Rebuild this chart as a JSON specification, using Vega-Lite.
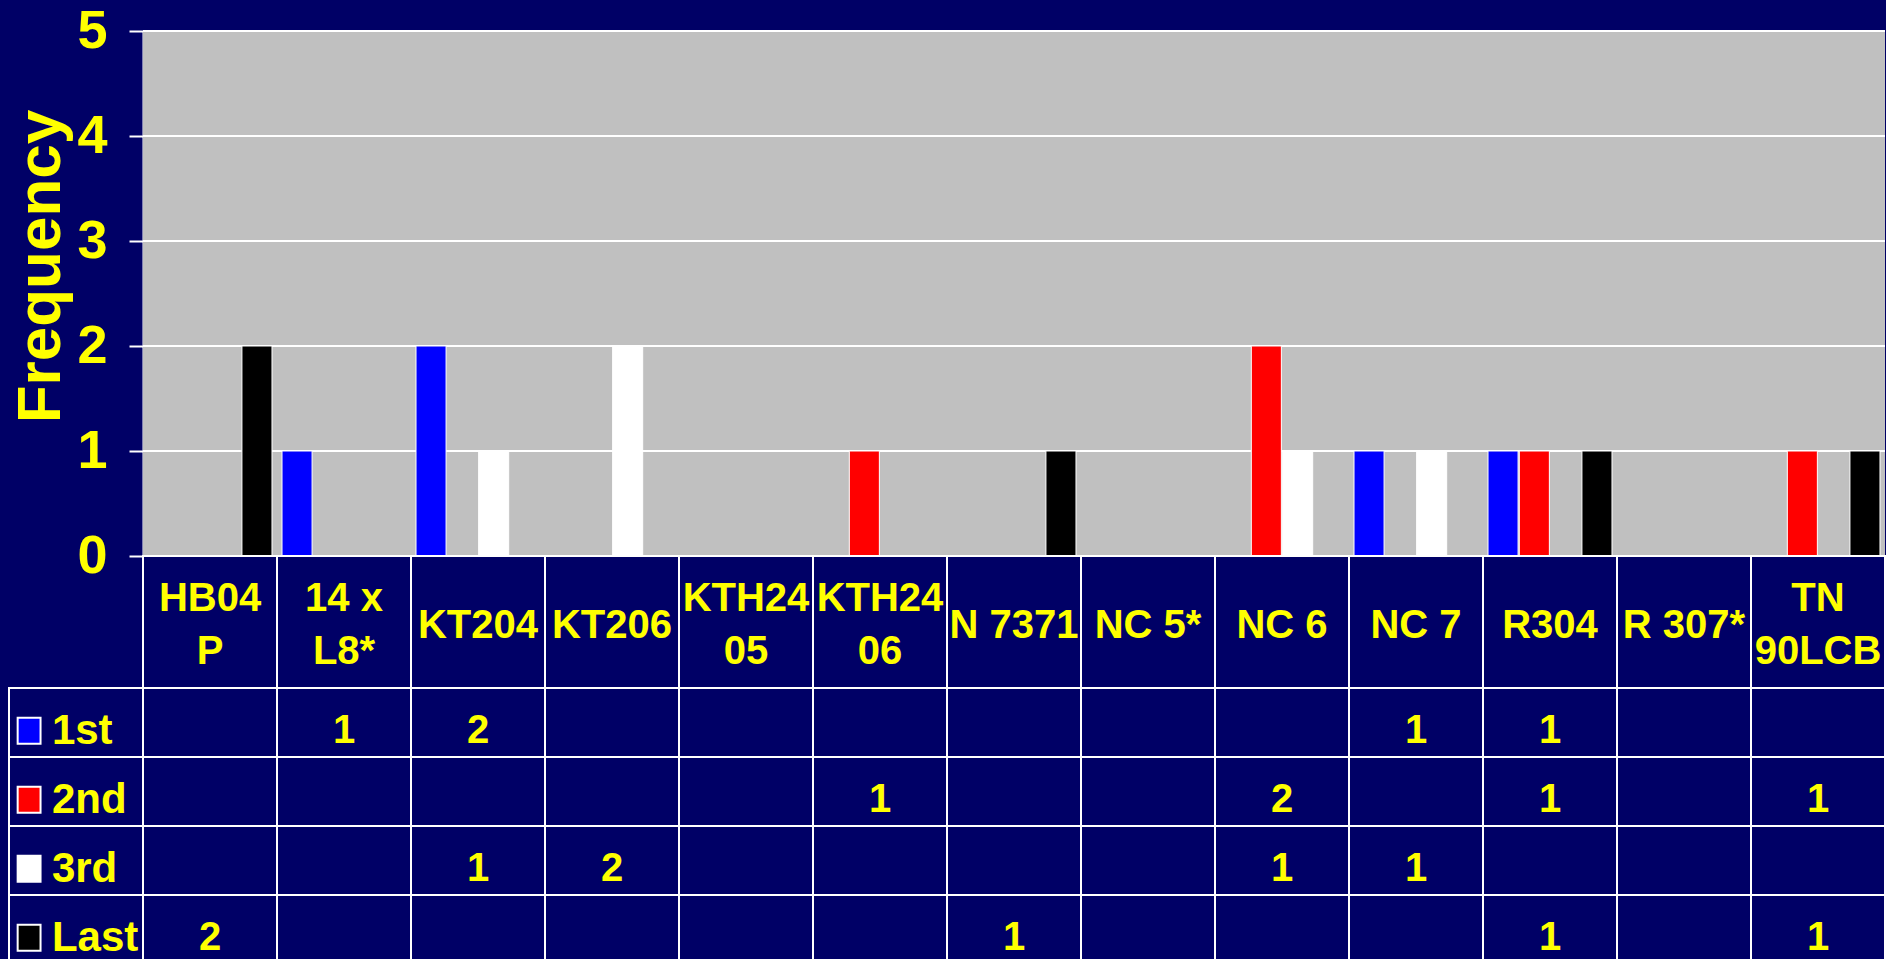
{
  "$schema": "https://vega.github.io/schema/vega-lite/v6.json",
  "background": "#000066",
  "padding": {"left": 8, "top": 4, "right": 0, "bottom": 0},
  "spacing": 0,
  "bounds": "flush",
  "config": {"view": {"stroke": null}},
  "datasets": {
    "table": [
      {"cultivar": "HB04\nP", "place": "1st", "n": null},
      {"cultivar": "HB04\nP", "place": "2nd", "n": null},
      {"cultivar": "HB04\nP", "place": "3rd", "n": null},
      {"cultivar": "HB04\nP", "place": "Last", "n": 2},
      {"cultivar": "14 x\nL8*", "place": "1st", "n": 1},
      {"cultivar": "14 x\nL8*", "place": "2nd", "n": null},
      {"cultivar": "14 x\nL8*", "place": "3rd", "n": null},
      {"cultivar": "14 x\nL8*", "place": "Last", "n": null},
      {"cultivar": "KT204", "place": "1st", "n": 2},
      {"cultivar": "KT204", "place": "2nd", "n": null},
      {"cultivar": "KT204", "place": "3rd", "n": 1},
      {"cultivar": "KT204", "place": "Last", "n": null},
      {"cultivar": "KT206", "place": "1st", "n": null},
      {"cultivar": "KT206", "place": "2nd", "n": null},
      {"cultivar": "KT206", "place": "3rd", "n": 2},
      {"cultivar": "KT206", "place": "Last", "n": null},
      {"cultivar": "KTH24\n05", "place": "1st", "n": null},
      {"cultivar": "KTH24\n05", "place": "2nd", "n": null},
      {"cultivar": "KTH24\n05", "place": "3rd", "n": null},
      {"cultivar": "KTH24\n05", "place": "Last", "n": null},
      {"cultivar": "KTH24\n06", "place": "1st", "n": null},
      {"cultivar": "KTH24\n06", "place": "2nd", "n": 1},
      {"cultivar": "KTH24\n06", "place": "3rd", "n": null},
      {"cultivar": "KTH24\n06", "place": "Last", "n": null},
      {"cultivar": "N 7371", "place": "1st", "n": null},
      {"cultivar": "N 7371", "place": "2nd", "n": null},
      {"cultivar": "N 7371", "place": "3rd", "n": null},
      {"cultivar": "N 7371", "place": "Last", "n": 1},
      {"cultivar": "NC 5*", "place": "1st", "n": null},
      {"cultivar": "NC 5*", "place": "2nd", "n": null},
      {"cultivar": "NC 5*", "place": "3rd", "n": null},
      {"cultivar": "NC 5*", "place": "Last", "n": null},
      {"cultivar": "NC 6", "place": "1st", "n": null},
      {"cultivar": "NC 6", "place": "2nd", "n": 2},
      {"cultivar": "NC 6", "place": "3rd", "n": 1},
      {"cultivar": "NC 6", "place": "Last", "n": null},
      {"cultivar": "NC 7", "place": "1st", "n": 1},
      {"cultivar": "NC 7", "place": "2nd", "n": null},
      {"cultivar": "NC 7", "place": "3rd", "n": 1},
      {"cultivar": "NC 7", "place": "Last", "n": null},
      {"cultivar": "R304", "place": "1st", "n": 1},
      {"cultivar": "R304", "place": "2nd", "n": 1},
      {"cultivar": "R304", "place": "3rd", "n": null},
      {"cultivar": "R304", "place": "Last", "n": 1},
      {"cultivar": "R 307*", "place": "1st", "n": null},
      {"cultivar": "R 307*", "place": "2nd", "n": null},
      {"cultivar": "R 307*", "place": "3rd", "n": null},
      {"cultivar": "R 307*", "place": "Last", "n": null},
      {"cultivar": "TN\n90LCB", "place": "1st", "n": null},
      {"cultivar": "TN\n90LCB", "place": "2nd", "n": 1},
      {"cultivar": "TN\n90LCB", "place": "3rd", "n": null},
      {"cultivar": "TN\n90LCB", "place": "Last", "n": 1}
    ],
    "ticks": [{"v": 0}, {"v": 1}, {"v": 2}, {"v": 3}, {"v": 4}, {"v": 5}]
  },
  "vconcat": [
    {
      "width": 1876,
      "height": 525,
      "layer": [
        {
          "data": {"name": "table"},
          "transform": [{"aggregate": [{"op": "count", "as": "k"}], "groupby": ["cultivar"]}],
          "mark": {"type": "rect", "fill": "#C0C0C0"},
          "encoding": {
            "x": {"field": "cultivar", "type": "nominal", "axis": null,
                  "scale": {"domain": ["key", "HB04\nP", "14 x\nL8*", "KT204", "KT206", "KTH24\n05", "KTH24\n06", "N 7371", "NC 5*", "NC 6", "NC 7", "R304", "R 307*", "TN\n90LCB"], "paddingInner": 0, "paddingOuter": 0}},
            "y": {"datum": 0, "type": "quantitative", "title": "Frequency",
                  "scale": {"domain": [0, 5], "nice": false, "zero": true},
                  "axis": {"values": [0, 1, 2, 3, 4, 5], "format": "d", "offset": -134, "grid": false,
                           "domainColor": "#FFFFFF", "domainWidth": 2,
                           "tickColor": "#FFFFFF", "tickWidth": 2, "tickSize": 14,
                           "labelColor": "#FFFF00", "labelFont": "Liberation Sans", "labelFontSize": 54, "labelFontWeight": "bold",
                           "labelPadding": 22, "labelFlush": false, "labelOverlap": false,
                           "title": "Frequency", "titleColor": "#FFFF00", "titleFont": "Liberation Sans", "titleFontSize": 62,
                           "titleFontWeight": "bold", "titlePadding": 4, "titleY": 235}},
            "y2": {"datum": 5}
          }
        },
        {
          "data": {"name": "ticks"},
          "mark": {"type": "rule", "stroke": "#FFFFFF", "strokeWidth": 2},
          "encoding": {
            "x": {"datum": "HB04\nP", "type": "nominal", "bandPosition": 0},
            "x2": {"datum": "TN\n90LCB", "bandPosition": 1},
            "y": {"field": "v", "type": "quantitative", "title": "Frequency"}
          }
        },
        {
          "data": {"name": "table"},
          "transform": [{"filter": "datum.n > 0"}],
          "mark": {"type": "bar", "stroke": "#FFFFFF", "strokeWidth": 1},
          "encoding": {
            "x": {"field": "cultivar", "type": "nominal"},
            "xOffset": {"field": "place", "type": "nominal",
                        "scale": {"domain": ["1st", "2nd", "3rd", "Last"], "paddingOuter": 0.16, "paddingInner": 0.04}},
            "y": {"field": "n", "type": "quantitative", "title": "Frequency"},
            "color": {"field": "place", "type": "nominal", "legend": null,
                      "scale": {"domain": ["1st", "2nd", "3rd", "Last"], "range": ["#0000FF", "#FF0000", "#FFFFFF", "#000000"]}}
          }
        }
      ]
    },
    {
      "width": 1876,
      "height": 132,
      "data": {"name": "table"},
      "transform": [{"aggregate": [{"op": "count", "as": "k"}], "groupby": ["cultivar"]}],
      "layer": [
        {
          "mark": {"type": "rect", "fill": "#000066", "stroke": "#FFFFFF", "strokeWidth": 2},
          "encoding": {
            "x": {"field": "cultivar", "type": "nominal", "axis": null,
                  "scale": {"domain": ["key", "HB04\nP", "14 x\nL8*", "KT204", "KT206", "KTH24\n05", "KTH24\n06", "N 7371", "NC 5*", "NC 6", "NC 7", "R304", "R 307*", "TN\n90LCB"], "paddingInner": 0, "paddingOuter": 0}}
          }
        },
        {
          "mark": {"type": "text", "lineBreak": "\n", "font": "Liberation Sans", "fontSize": 40, "fontWeight": "bold",
                   "color": "#FFFF00", "lineHeight": 53, "align": "center", "dy": 4,
                   "baseline": {"expr": "indexof(datum.cultivar, '\\n') >= 0 ? 'line-bottom' : 'middle'"}},
          "encoding": {
            "x": {"field": "cultivar", "type": "nominal"},
            "text": {"field": "cultivar"}
          }
        }
      ]
    },
    {
      "width": 1876,
      "height": 276,
      "layer": [
        {
          "data": {"name": "table"},
          "mark": {"type": "rect", "fill": "#000066", "stroke": "#FFFFFF", "strokeWidth": 2},
          "encoding": {
            "x": {"field": "cultivar", "type": "nominal", "axis": null,
                  "scale": {"domain": ["key", "HB04\nP", "14 x\nL8*", "KT204", "KT206", "KTH24\n05", "KTH24\n06", "N 7371", "NC 5*", "NC 6", "NC 7", "R304", "R 307*", "TN\n90LCB"], "paddingInner": 0, "paddingOuter": 0}},
            "y": {"field": "place", "type": "nominal", "axis": null,
                  "scale": {"domain": ["1st", "2nd", "3rd", "Last"], "paddingInner": 0, "paddingOuter": 0}}
          }
        },
        {
          "data": {"name": "table"},
          "transform": [{"aggregate": [{"op": "count", "as": "k"}], "groupby": ["place"]}],
          "mark": {"type": "rect", "fill": "#000066", "stroke": "#FFFFFF", "strokeWidth": 2},
          "encoding": {
            "x": {"datum": "key", "type": "nominal"},
            "y": {"field": "place", "type": "nominal"}
          }
        },
        {
          "data": {"name": "table"},
          "transform": [{"aggregate": [{"op": "count", "as": "k"}], "groupby": ["place"]}],
          "mark": {"type": "point", "shape": "M-0.88,-1H0.88V1H-0.88Z", "size": 676, "filled": true, "opacity": 1,
                   "stroke": "#FFFFFF", "strokeWidth": 2},
          "encoding": {
            "x": {"datum": "key", "type": "nominal", "bandPosition": 0.15},
            "y": {"field": "place", "type": "nominal", "bandPosition": 0.62},
            "fill": {"field": "place", "type": "nominal", "legend": null,
                     "scale": {"domain": ["1st", "2nd", "3rd", "Last"], "range": ["#0000FF", "#FF0000", "#FFFFFF", "#000000"]}}
          }
        },
        {
          "data": {"name": "table"},
          "transform": [{"aggregate": [{"op": "count", "as": "k"}], "groupby": ["place"]}],
          "mark": {"type": "text", "font": "Liberation Sans", "fontSize": 42, "fontWeight": "bold",
                   "color": "#FFFF00", "baseline": "middle", "align": "left"},
          "encoding": {
            "x": {"datum": "key", "type": "nominal", "bandPosition": 0.32},
            "y": {"field": "place", "type": "nominal", "bandPosition": 0.62},
            "text": {"field": "place"}
          }
        },
        {
          "data": {"name": "table"},
          "transform": [{"filter": "isValid(datum.n)"}],
          "mark": {"type": "text", "font": "Liberation Sans", "fontSize": 40, "fontWeight": "bold",
                   "color": "#FFFF00", "baseline": "middle", "align": "center"},
          "encoding": {
            "x": {"field": "cultivar", "type": "nominal"},
            "y": {"field": "place", "type": "nominal", "bandPosition": 0.62},
            "text": {"field": "n", "type": "quantitative"}
          }
        }
      ]
    }
  ]
}
